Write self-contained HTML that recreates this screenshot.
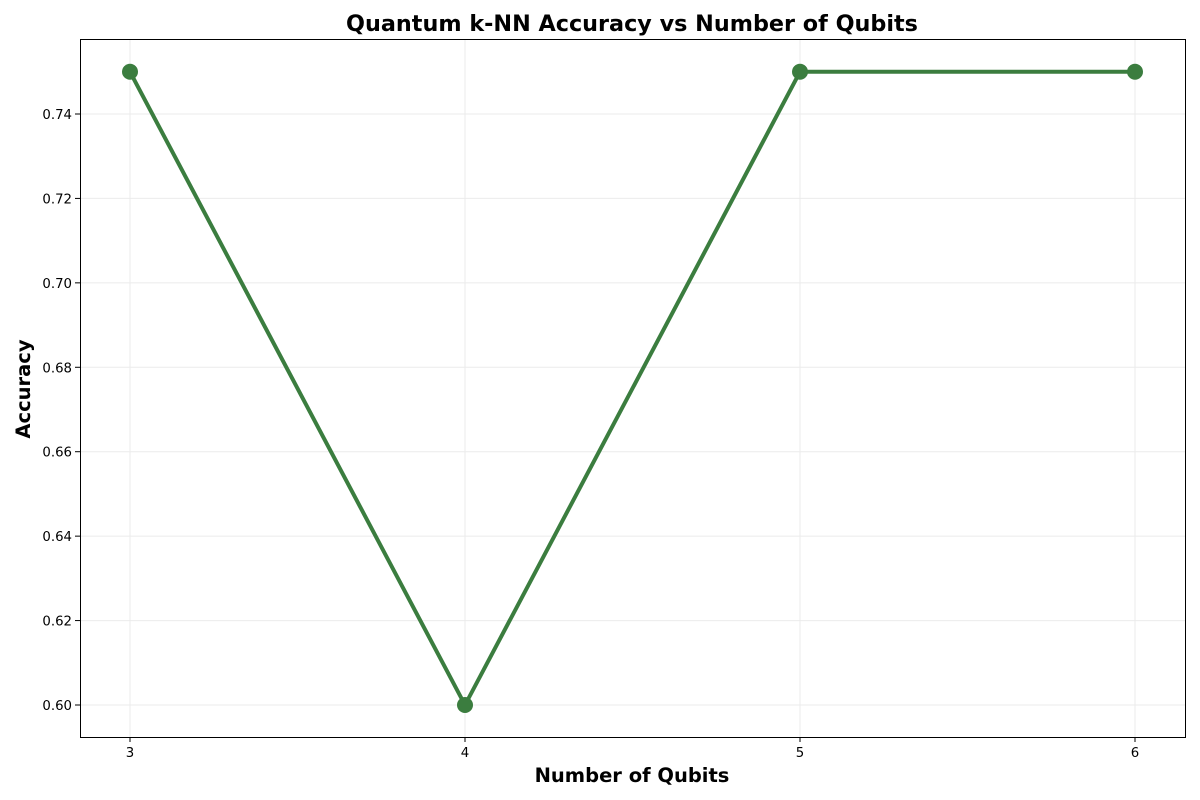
<!DOCTYPE html>
<html><head><meta charset="utf-8"><style>
body{margin:0;background:#fff;}
svg{display:block;font-family:"DejaVu Sans","Liberation Sans",sans-serif;}
</style></head><body>
<svg id="chart" width="1200" height="800" viewBox="0 0 1200 800">
<text x="632" y="31" text-anchor="middle" font-size="22.3" font-weight="bold">Quantum k-NN Accuracy vs Number of Qubits</text>
<g id="grid"></g>
<g id="ticks"></g>
<g id="series"></g>
<rect x="80.5" y="39.5" width="1105" height="698" fill="none" stroke="#000" stroke-width="1"/>
<text x="632" y="782" text-anchor="middle" font-size="19.5" font-weight="bold">Number of Qubits</text>
<text transform="translate(30,389) rotate(-90)" text-anchor="middle" font-size="19.5" font-weight="bold">Accuracy</text>
</svg>
<script>
const qubits = [3, 4, 5, 6];
const accuracy = [0.75, 0.60, 0.75, 0.75];
const xTicks = [3, 4, 5, 6];
const yTicks = [0.60, 0.62, 0.64, 0.66, 0.68, 0.70, 0.72, 0.74];

const NS = "http://www.w3.org/2000/svg";
const L = 80, R = 1185, T = 39, B = 737;
const x = v => 130 + (v - 3) * 335;
const y = v => 705 - (v - 0.60) / 0.02 * 84.43;
function mk(tag, attrs, parent) {
  const e = document.createElementNS(NS, tag);
  for (const k in attrs) e.setAttribute(k, attrs[k]);
  parent.appendChild(e);
  return e;
}
const grid = document.getElementById('grid');
const ticks = document.getElementById('ticks');
const series = document.getElementById('series');
xTicks.forEach(t => {
  const gx = x(t);
  const g = mk('line', {x1: gx, x2: gx, y1: T, y2: B, stroke: '#ebebeb', 'stroke-width': 1}, grid);
  
  
  const tk = mk('line', {x1: gx, x2: gx, y1: B, y2: B + 5, stroke: '#000'}, ticks);
  
  
  const lb = mk('text', {x: gx, y: B + 20, 'text-anchor': 'middle', 'font-size': 13.3}, ticks);
  lb.textContent = t;
  
  
});
yTicks.forEach(t => {
  const gy = y(t);
  const g = mk('line', {x1: L, x2: R, y1: gy, y2: gy, stroke: '#ebebeb', 'stroke-width': 1}, grid);
  
  
  const tk = mk('line', {x1: L - 5, x2: L, y1: gy, y2: gy, stroke: '#000'}, ticks);
  
  
  const lb = mk('text', {x: L - 8, y: gy + 5, 'text-anchor': 'end', 'font-size': 13.3}, ticks);
  lb.textContent = t.toFixed(2);
  
  
});
const pts = qubits.map((q, i) => x(q) + ',' + y(accuracy[i])).join(' ');
const line = mk('polyline', {points: pts, fill: 'none', stroke: '#3b7d3f', 'stroke-width': 4, 'stroke-linejoin': 'round'}, series);


qubits.forEach((q, i) => {
  const c = mk('circle', {cx: x(q), cy: y(accuracy[i]), r: 8, fill: '#3b7d3f'}, series);
  
  
});
</script>
</body></html>
